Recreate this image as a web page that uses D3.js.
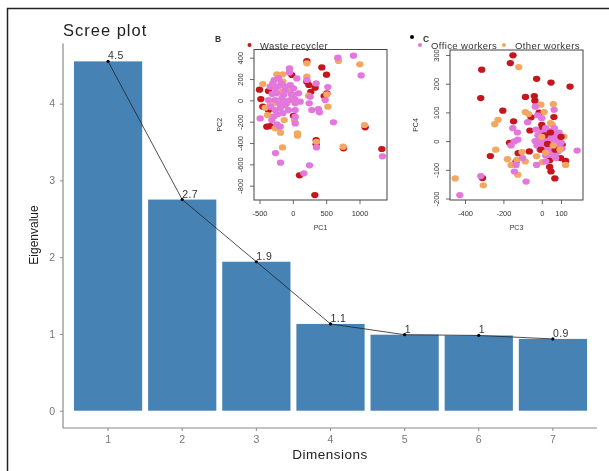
<!DOCTYPE html>
<meta charset="utf-8">
<head>
<script src="https://d3js.org/d3.v7.min.js"></script>
<style>
  html, body { margin: 0; padding: 0; background: #fff; }
  text { font-family: "Liberation Sans", Arial, sans-serif; }
</style>
</head>
<body>
<svg id="chart" width="609" height="471"></svg>

<script>
// scree plot values
var dimensions = [1, 2, 3, 4, 5, 6, 7];
var eigenvalues = [4.55, 2.75, 1.94, 1.13, 0.99, 0.98, 0.935];
var eigenLabels = ["4.5", "2.7", "1.9", "1.1", "1", "1", "0.9"];
var screeTicks = [0, 1, 2, 3, 4];

// panel B, PC1 / PC2
var bRed = [[210,369],[435,309],[505,241],[-500,100],[240,144],[-15,238],[335,119],[270,81],[470,41],[-480,12],[-450,-59],[-365,-91],[-365,88],[-390,-247],[-340,-241],[350,-372],[350,-412],[1085,-253],[760,-450],[1335,-456],[100,-703],[330,-888],[10,-144],[510,66],[210,175]];
var bOrange = [[210,347],[675,394],[685,369],[1005,338],[-450,153],[-240,244],[-150,244],[210,222],[-150,175],[-165,81],[235,44],[510,56],[525,-59],[-290,-28],[-380,-137],[-130,-184],[-265,-262],[-185,-303],[70,-309],[70,-331],[25,-184],[-155,-441],[355,-388],[755,-434],[1075,-231],[-90,-28],[-415,-69],[-40,97],[-340,-44]];
var bPink = [[-50,300],[-50,262],[910,419],[675,400],[1025,234],[-280,191],[-215,206],[-175,159],[-340,128],[-265,113],[60,206],[210,191],[350,159],[525,125],[485,3],[-365,3],[-265,3],[-165,19],[-240,66],[-115,97],[10,113],[10,50],[85,66],[110,-12],[35,-28],[-40,3],[-115,-44],[-190,-75],[-265,-91],[-490,-169],[-315,-184],[-240,-225],[-190,-247],[35,-91],[35,-153],[35,-216],[260,34],[245,-28],[285,-91],[385,-81],[400,-112],[610,-206],[355,-441],[-260,-494],[-185,-584],[250,-609],[165,-684],[1345,-525],[-40,144],[-140,50],[-65,-91],[-300,160],[-220,130],[-120,130],[-310,60],[-200,-30],[-100,-10],[-30,60],[30,10],[-330,-60],[-230,-130],[-280,-150],[-150,-120]];
var bXTicks = [-500, 0, 500, 1000];
var bYTicks = [400, 200, 0, -200, -400, -600, -800];

// panel C, PC3 / PC4
var cRed = [[-150,299],[-164,272],[-313,249],[-27,217],[48,204],[147,190],[-318,150],[-85,154],[-39,157],[-36,141],[-203,106],[-56,83],[-147,69],[-14,99],[63,84],[-62,37],[0,57],[3,45],[-168,-6],[-123,-42],[-65,-36],[-268,-52],[-134,-71],[41,-67],[41,-90],[48,-106],[68,-130],[-309,-129],[106,-13],[98,-59],[124,-69],[72,22],[12,5]];
var cOrange = [[-120,258],[-5,127],[60,129],[12,101],[-86,101],[-69,94],[-228,74],[-245,59],[46,63],[-240,-30],[-179,-63],[-160,-83],[-130,-65],[-125,-117],[-451,-130],[-305,-154],[-103,-38],[-86,-71],[-27,-53],[3,-73],[55,-42],[115,16],[124,-83],[55,57]];
var cPink = [[-34,120],[64,109],[-22,90],[0,80],[-74,66],[-151,45],[-127,30],[-125,5],[-143,-1],[-160,-15],[-100,-59],[-134,-83],[-143,-106],[-318,-122],[-82,-141],[-427,-188],[184,-33],[-27,-83],[21,-71],[72,-59],[-30,40],[-20,20],[-35,0],[-25,-15],[-10,-30],[0,30],[5,10],[10,-10],[15,-30],[20,45],[25,25],[30,5],[35,-15],[40,-35],[45,35],[50,15],[55,-5],[60,-25],[65,45],[70,25],[75,5],[80,-15],[85,-35],[90,30],[95,10],[100,-5],[105,-25],[-15,5],[10,25],[40,0],[60,10],[30,-25],[-5,-5],[50,-45],[20,-50],[70,-45]];
// the few dots of panel C that lie over the pink cluster
var cRedOver = [[-5,-30],[30,-10],[70,-30],[100,15],[45,30],[15,20]];
var cOrangeOver = [[20,-40],[60,-15],[95,-30],[0,15]];
var cXTicks = [-400, -200, 0, 100];
var cYTicks = [300, 200, 100, 0, -100, -200];

var red = "#c4141f", orange = "#f2a860", pink = "#e377dc", steel = "#4682b4", grey = "#8a8a8a";

var svg = d3.select("#chart");

// soft blur, the source is a low resolution scan
var defs = svg.append("defs");
defs.append("filter").attr("id", "soft").append("feGaussianBlur").attr("stdDeviation", 0.45);
defs.append("filter").attr("id", "softer").append("feGaussianBlur").attr("stdDeviation", 0.7);

// page frame, open on the right and at the bottom
svg.append("path")
  .attr("d", "M7.5,471V8.5H609")
  .attr("fill", "none")
  .attr("stroke", "#222")
  .attr("stroke-width", 1.5);

var main = svg.append("g").attr("filter", "url(#soft)");

var x = d3.scaleBand().domain(dimensions).range([71, 590]).paddingInner(0.08).paddingOuter(0.04);
var y = d3.scaleLinear().domain([0, 4]).range([410.7, 103.6]);

main.selectAll(".bar")
  .data(dimensions)
  .enter()
  .append("rect")
    .attr("class", "bar")
    .attr("x", function(d) { return x(d); })
    .attr("width", x.bandwidth())
    .attr("y", function(d, i) { return y(eigenvalues[i]); })
    .attr("height", function(d, i) { return y(0) - y(eigenvalues[i]); })
    .attr("fill", steel);

var line = d3.line()
  .x(function(d) { return x(d) + x.bandwidth() / 2; })
  .y(function(d, i) { return y(eigenvalues[i]); });

main.append("path")
  .attr("d", line(dimensions))
  .attr("fill", "none")
  .attr("stroke", "#222")
  .attr("stroke-width", 0.8);

main.selectAll(".pt")
  .data(dimensions)
  .enter()
  .append("circle")
    .attr("cx", function(d) { return x(d) + x.bandwidth() / 2; })
    .attr("cy", function(d, i) { return y(eigenvalues[i]); })
    .attr("r", 1.6)
    .attr("fill", "#000");

main.selectAll(".lab")
  .data(dimensions)
  .enter()
  .append("text")
    .attr("x", function(d) { return x(d) + x.bandwidth() / 2; })
    .attr("y", function(d, i) { return y(eigenvalues[i]) - 2; })
    .attr("font-size", 10.5)
    .attr("letter-spacing", 0.4)
    .attr("fill", "#333")
    .text(function(d, i) { return eigenLabels[i]; });

// axes
var xAxis = main.append("g")
  .attr("transform", "translate(0,428)")
  .call(d3.axisBottom(x).tickSize(3).tickPadding(5));
xAxis.select(".domain").attr("d", "M63,0H597");
var yAxis = main.append("g")
  .attr("transform", "translate(63,0)")
  .call(d3.axisLeft(y).tickValues(screeTicks).tickFormat(d3.format("d")).tickSize(3).tickPadding(5));
yAxis.select(".domain").attr("d", "M0,43.5V428");
main.selectAll(".domain").attr("stroke", grey).attr("stroke-width", 1.2);
main.selectAll(".tick line").attr("stroke", grey);
main.selectAll(".tick text").attr("fill", "#777").attr("font-size", 10.5).attr("font-family", null);

main.append("text")
  .attr("x", 63).attr("y", 36)
  .attr("font-size", 16.5)
  .attr("letter-spacing", 1)
  .attr("fill", "#222")
  .text("Scree plot");
main.append("text")
  .attr("x", 330).attr("y", 459)
  .attr("text-anchor", "middle")
  .attr("font-size", 13.5)
  .attr("letter-spacing", 0.5)
  .attr("fill", "#222")
  .text("Dimensions");
main.append("text")
  .attr("transform", "translate(38,235) rotate(-90)")
  .attr("text-anchor", "middle")
  .attr("font-size", 12)
  .attr("fill", "#222")
  .text("Eigenvalue");

// inset scatter panels, same layout for B and C
function drawPanel(o) {
  var g = svg.append("g").attr("filter", "url(#softer)");
  var sx = d3.scaleLinear().domain(o.xDomain).range(o.xRange);
  var sy = d3.scaleLinear().domain(o.yDomain).range(o.yRange);

  o.layers.forEach(function(s) {
    g.append("g").selectAll("ellipse")
      .data(s[0])
      .enter()
      .append("ellipse")
        .attr("cx", function(d) { return sx(d[0]); })
        .attr("cy", function(d) { return sy(d[1]); })
        .attr("rx", 3.7)
        .attr("ry", 3.1)
        .attr("fill", s[1]);
  });

  g.append("rect")
    .attr("x", o.box[0]).attr("y", o.box[1])
    .attr("width", o.box[2] - o.box[0]).attr("height", o.box[3] - o.box[1])
    .attr("fill", "none")
    .attr("stroke", "#444")
    .attr("stroke-width", 1);

  var ax = g.append("g")
    .attr("transform", "translate(0," + o.box[3] + ")")
    .call(d3.axisBottom(sx).tickValues(o.xTicks).tickFormat(String).tickSize(4).tickPadding(7));
  var ay = g.append("g")
    .attr("transform", "translate(" + o.box[0] + ",0)")
    .call(d3.axisLeft(sy).tickValues(o.yTicks).tickFormat(String).tickSize(4).tickPadding(2));
  ax.select(".domain").remove();
  ay.select(".domain").remove();
  g.selectAll(".tick line").attr("stroke", "#444").attr("stroke-width", 0.8);
  g.selectAll(".tick text").attr("fill", "#333").attr("font-size", 7.5).attr("font-family", null);
  ay.selectAll(".tick text")
    .attr("text-anchor", "middle")
    .attr("transform", function() {
      return "translate(-7,0) rotate(-90," + d3.select(this).attr("x") + ",0)";
    })
    .attr("dy", "0.32em");

  g.append("text")
    .attr("x", (o.box[0] + o.box[2]) / 2).attr("y", o.box[3] + 30)
    .attr("text-anchor", "middle").attr("font-size", 7).attr("fill", "#333")
    .text(o.xName);
  g.append("text")
    .attr("transform", "translate(" + (o.box[0] - 32) + "," + ((o.box[1] + o.box[3]) / 2) + ") rotate(-90)")
    .attr("text-anchor", "middle").attr("font-size", 7).attr("fill", "#333")
    .text(o.yName);
}

drawPanel({
  layers: [[bRed, red], [bOrange, orange], [bPink, pink]],
  box: [254, 49.5, 387, 200],
  xDomain: [-500, 1000], xRange: [259.5, 359.5],
  yDomain: [400, -800], yRange: [57.7, 185.7],
  xTicks: bXTicks, yTicks: bYTicks,
  xName: "PC1", yName: "PC2"
});

drawPanel({
  layers: [[cRed, red], [cOrange, orange], [cPink, pink], [cRedOver, red], [cOrangeOver, orange]],
  box: [450, 50, 583, 200],
  xDomain: [-400, 100], xRange: [465, 561],
  yDomain: [300, -200], yRange: [55, 198.5],
  xTicks: cXTicks, yTicks: cYTicks,
  xName: "PC3", yName: "PC4"
});

// legend row sitting on top of the panels
var legend = svg.append("g").attr("filter", "url(#soft)");
var legendDots = [[249.5, 45, red], [420, 45, pink], [504, 45, orange], [412, 37, "#000"]];
var legendText = [["Waste recycler", 260, 49], ["Office workers", 431, 49], ["Other workers", 515, 49]];
var panelLetters = [["B", 215, 42], ["C", 423, 42]];

legend.selectAll("circle")
  .data(legendDots)
  .enter()
  .append("circle")
    .attr("cx", function(d) { return d[0]; })
    .attr("cy", function(d) { return d[1]; })
    .attr("r", 2)
    .attr("fill", function(d) { return d[2]; });
legend.selectAll(".name")
  .data(legendText)
  .enter()
  .append("text")
    .attr("class", "name")
    .attr("x", function(d) { return d[1]; })
    .attr("y", function(d) { return d[2]; })
    .attr("font-size", 9.5)
    .attr("letter-spacing", 0.4)
    .attr("fill", "#333")
    .text(function(d) { return d[0]; });
legend.selectAll(".letter")
  .data(panelLetters)
  .enter()
  .append("text")
    .attr("class", "letter")
    .attr("x", function(d) { return d[1]; })
    .attr("y", function(d) { return d[2]; })
    .attr("font-size", 8.5)
    .attr("font-weight", "bold")
    .attr("fill", "#333")
    .text(function(d) { return d[0]; });
</script>
</body>
